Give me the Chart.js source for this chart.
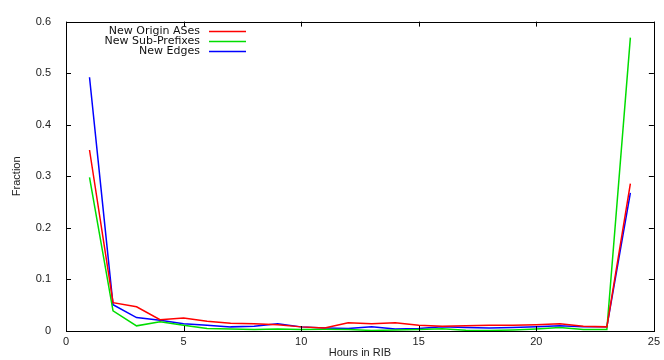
<!DOCTYPE html>
<html>
<head>
<meta charset="utf-8">
<script src="https://cdn.jsdelivr.net/npm/chart.js@4/dist/chart.umd.min.js"></script>
<style>
    body { margin: 0; background: #fff; }
</style>
</head>
<body>
<canvas id="ribChart" width="664" height="360"></canvas>
<script>
const hours = [1, 2, 3, 4, 5, 6, 7, 8, 9, 10, 11, 12, 13, 14, 15, 16, 17, 18, 19, 20, 21, 22, 23, 24];
const originASes = [0.351, 0.055, 0.047, 0.022, 0.025, 0.019, 0.015, 0.014, 0.012, 0.008, 0.006, 0.016,
    0.014, 0.016, 0.011, 0.009, 0.010, 0.011, 0.011, 0.012, 0.014, 0.009, 0.008, 0.286];
const subPrefixes = [0.298, 0.039, 0.010, 0.018, 0.011, 0.005, 0.004, 0.003, 0.004, 0.003, 0.0035, 0.003,
    0.001, 0.002, 0.003, 0.0045, 0.0015, 0.001, 0.002, 0.004, 0.007, 0.003, 0.003, 0.569];
const newEdges = [0.492, 0.051, 0.026, 0.021, 0.014, 0.011, 0.008, 0.009, 0.014, 0.008, 0.006, 0.005,
    0.008, 0.004, 0.005, 0.008, 0.007, 0.006, 0.007, 0.008, 0.010, 0.008, 0.008, 0.268];
const xTicks = [0, 5, 10, 15, 20, 25];
const yTicks = [0, 0.1, 0.2, 0.3, 0.4, 0.5, 0.6];

const fontFamily = '"Liberation Sans", Arial, sans-serif';

function toPoints(values) {
    return hours.map((h, i) => ({ x: h, y: values[i] }));
}

// frame, inside ticks on all sides, legend in the top left corner
const gnuplotLook = {
    id: 'gnuplotLook',
    afterDraw(chart) {
        const ctx = chart.ctx;
        const a = chart.chartArea;
        const xs = chart.scales.x;
        const ys = chart.scales.y;
        ctx.save();
        ctx.strokeStyle = '#000';
        ctx.lineWidth = 1;
        ctx.beginPath();
        xTicks.forEach(v => {
            const px = Math.round(xs.getPixelForValue(v)) + 0.5;
            ctx.moveTo(px, a.bottom);
            ctx.lineTo(px, a.bottom - 5);
            ctx.moveTo(px, a.top);
            ctx.lineTo(px, a.top + 5);
        });
        yTicks.forEach(v => {
            const py = Math.round(ys.getPixelForValue(v)) + 0.5;
            ctx.moveTo(a.left, py);
            ctx.lineTo(a.left + 5, py);
            ctx.moveTo(a.right, py);
            ctx.lineTo(a.right - 5, py);
        });
        ctx.stroke();
        ctx.strokeRect(Math.round(a.left) + 0.5, Math.round(a.top) + 0.5,
            Math.round(a.right - a.left), Math.round(a.bottom - a.top));

        ctx.font = '11px "DejaVu Sans", sans-serif';
        ctx.textAlign = 'right';
        ctx.textBaseline = 'middle';
        chart.data.datasets.forEach((ds, i) => {
            const y = a.top + 10 + i * 10;
            ctx.fillStyle = '#111';
            ctx.fillText(ds.label, a.left + 134, y);
            ctx.strokeStyle = ds.borderColor;
            ctx.lineWidth = 1.5;
            ctx.beginPath();
            ctx.moveTo(a.left + 143, y);
            ctx.lineTo(a.left + 180, y);
            ctx.stroke();
        });
        ctx.restore();
    }
};

const ctx = document.getElementById('ribChart').getContext('2d');
new Chart(ctx, {
    type: 'line',
    data: {
        datasets: [{
            label: 'New Origin ASes',
            data: toPoints(originASes),
            borderColor: '#ff0000',
            borderWidth: 1.5,
            pointRadius: 0,
            tension: 0
        }, {
            label: 'New Sub-Prefixes',
            data: toPoints(subPrefixes),
            borderColor: '#00dd00',
            borderWidth: 1.5,
            pointRadius: 0,
            tension: 0
        }, {
            label: 'New Edges',
            data: toPoints(newEdges),
            borderColor: '#0000ff',
            borderWidth: 1.5,
            pointRadius: 0,
            tension: 0
        }]
    },
    options: {
        responsive: false,
        animation: false,
        layout: {
            padding: { left: 0, right: 10, top: 11, bottom: 0 }
        },
        scales: {
            x: {
                type: 'linear',
                min: 0,
                max: 25,
                afterBuildTicks: scale => { scale.ticks = xTicks.map(v => ({ value: v })); },
                afterFit: scale => { scale.height = 29; },
                grid: { display: false, drawTicks: false },
                border: { display: false },
                ticks: {
                    padding: 4,
                    color: '#222',
                    font: { family: fontFamily, size: 11 }
                },
                title: {
                    display: true,
                    text: 'Hours in RIB',
                    color: '#222',
                    padding: 0,
                    font: { family: fontFamily, size: 11 }
                }
            },
            y: {
                min: 0,
                max: 0.6,
                afterBuildTicks: scale => { scale.ticks = yTicks.map(v => ({ value: v })); },
                afterFit: scale => { scale.width = 66; },
                grid: { display: false, drawTicks: false },
                border: { display: false },
                ticks: {
                    padding: 15,
                    color: '#222',
                    font: { family: fontFamily, size: 11 },
                    callback: v => String(Math.round(v * 10) / 10)
                },
                title: {
                    display: true,
                    text: 'Fraction',
                    color: '#222',
                    padding: { top: 10, bottom: 0 },
                    font: { family: fontFamily, size: 11 }
                }
            }
        },
        plugins: {
            legend: { display: false },
            tooltip: { enabled: false }
        }
    },
    plugins: [gnuplotLook]
});
</script>
</body>
</html>
